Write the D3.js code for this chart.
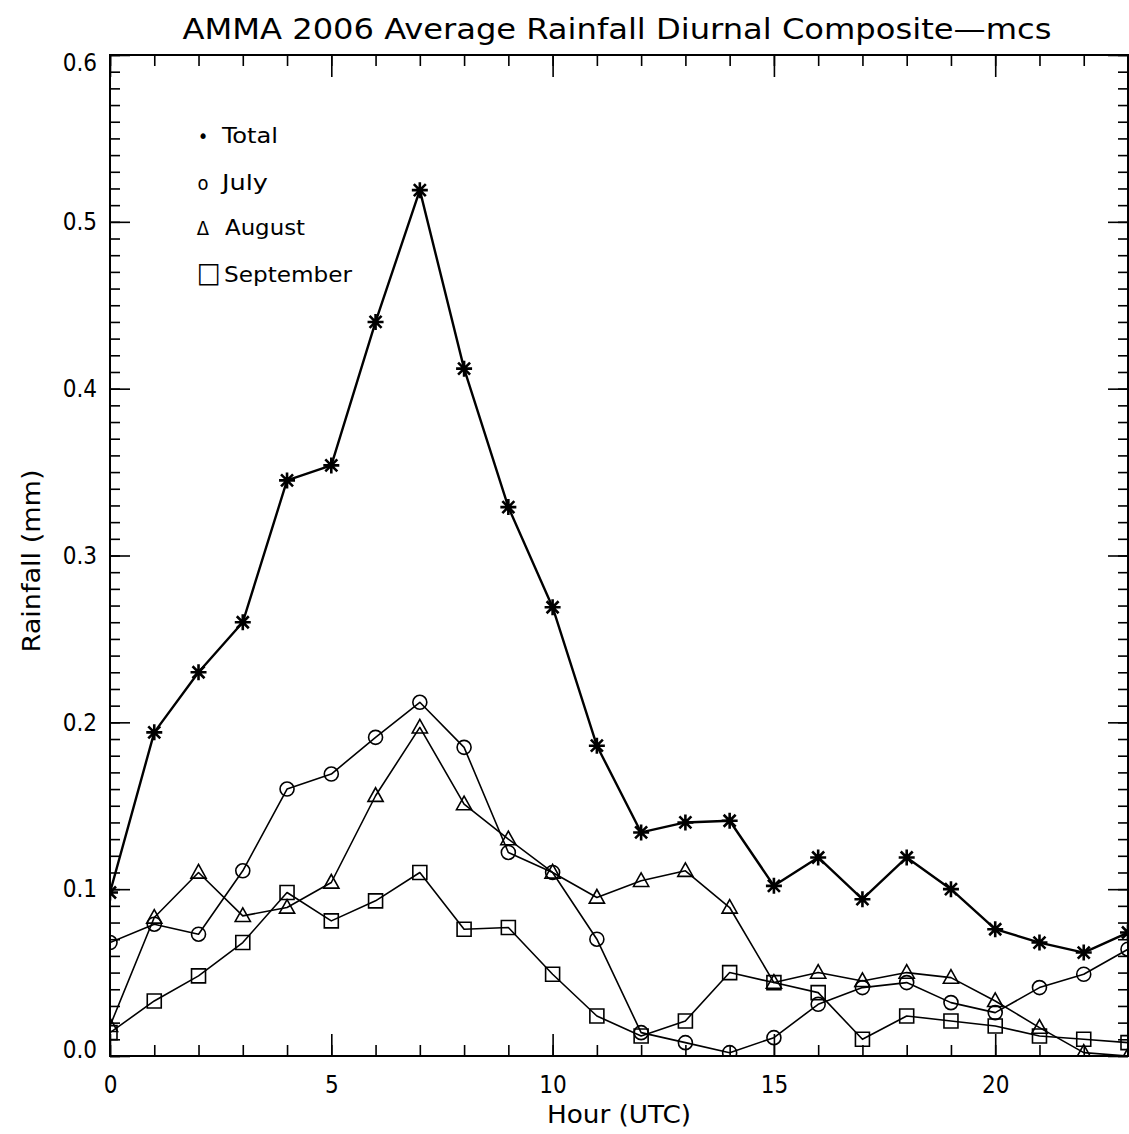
<!DOCTYPE html>
<html>
<head>
<meta charset="utf-8">
<script src="https://cdn.jsdelivr.net/npm/d3@7"></script>
<style>
  html, body { margin: 0; padding: 0; background: #fff; }
  svg { display: block; }
  text { font-family: "Liberation Sans Narrow", "DejaVu Sans Condensed", "DejaVu Sans", sans-serif; fill: #000; }
</style>
</head>
<body>
<svg id="chart" width="1129" height="1134"></svg>
<script>
// Hour of day (UTC)
const hours = [0,1,2,3,4,5,6,7,8,9,10,11,12,13,14,15,16,17,18,19,20,21,22,23];

// Average rainfall (mm) per hour
const totalRain = [0.098,0.194,0.230,0.260,0.345,0.354,0.440,0.519,0.412,0.329,0.269,0.186,
                   0.134,0.140,0.141,0.102,0.119,0.094,0.119,0.100,0.076,0.068,0.062,0.074];
const julyRain  = [0.068,0.079,0.073,0.111,0.160,0.169,0.191,0.212,0.185,0.122,0.110,0.070,
                   0.014,0.008,0.002,0.011,0.031,0.041,0.044,0.032,0.026,0.041,0.049,0.064];
const augustRain = [0.018,0.083,0.110,0.084,0.089,0.104,0.156,0.197,0.151,0.130,0.110,0.095,
                    0.105,0.111,0.089,0.044,0.050,0.045,0.050,0.047,0.033,0.017,0.002,0.000];
const septRain  = [0.014,0.033,0.048,0.068,0.098,0.081,0.093,0.110,0.076,0.077,0.049,0.024,
                   0.012,0.021,0.050,0.044,0.038,0.010,0.024,0.021,0.018,0.012,0.010,0.008];

const xMajorTicks = [0,5,10,15,20];
const yMajorTicks = [0.0,0.1,0.2,0.3,0.4,0.5,0.6];
const legendLabels = ["Total","July","August","September"];
const legendGlyphs = ["\u2022","o","\u0394","\u25A1"];

const svg = d3.select("#chart");
const plotLeft = 110, plotRight = 1128, plotTop = 55, plotBottom = 1056;

const x = d3.scaleLinear().domain([0, 23]).range([plotLeft, plotRight]);
const y = d3.scaleLinear().domain([0, 0.6]).range([plotBottom, plotTop]);

// title
svg.append("text")
  .attr("x", 617).attr("y", 39)
  .attr("text-anchor", "middle")
  .attr("font-size", 29)
  .attr("textLength", 869).attr("lengthAdjust", "spacingAndGlyphs")
  .text("AMMA 2006 Average Rainfall Diurnal Composite\u2014mcs");

// minor ticks
const xMinor = hours;
const yMinor = d3.range(0, 61).map(i => i / 100);

function styleAxis(g) {
  g.select(".domain").remove();
  g.selectAll(".tick line").attr("stroke", "#000").attr("stroke-width", 1.6);
  g.selectAll(".tick text").attr("font-size", 24).attr("fill", "#000");
}

svg.append("g").attr("transform", `translate(0,${plotBottom})`)
  .call(d3.axisBottom(x).tickValues(xMinor).tickSize(-11).tickSizeOuter(0).tickFormat(""))
  .call(styleAxis);
svg.append("g").attr("transform", `translate(0,${plotBottom})`)
  .call(d3.axisBottom(x).tickValues(xMajorTicks).tickSize(-22).tickSizeOuter(0).tickPadding(20).tickFormat(d3.format("d")))
  .call(styleAxis);
svg.append("g").attr("transform", `translate(0,${plotTop})`)
  .call(d3.axisTop(x).tickValues(xMinor).tickSize(-11).tickSizeOuter(0).tickFormat(""))
  .call(styleAxis);
svg.append("g").attr("transform", `translate(0,${plotTop})`)
  .call(d3.axisTop(x).tickValues(xMajorTicks).tickSize(-22).tickSizeOuter(0).tickFormat(""))
  .call(styleAxis);

svg.append("g").attr("transform", `translate(${plotLeft},0)`)
  .call(d3.axisLeft(y).tickValues(yMinor).tickSize(-10).tickSizeOuter(0).tickFormat(""))
  .call(styleAxis);
const yLabels = svg.append("g").attr("transform", `translate(${plotLeft},0)`)
  .call(d3.axisLeft(y).tickValues(yMajorTicks).tickSize(-20).tickSizeOuter(0).tickPadding(13).tickFormat(d3.format(".1f")))
  .call(styleAxis);
// keep the end labels inside the frame height
yLabels.selectAll(".tick text")
  .attr("y", d => d === 0.6 ? 8 : d === 0 ? -6 : 0);
svg.append("g").attr("transform", `translate(${plotRight},0)`)
  .call(d3.axisRight(y).tickValues(yMinor).tickSize(-10).tickSizeOuter(0).tickFormat(""))
  .call(styleAxis);
svg.append("g").attr("transform", `translate(${plotRight},0)`)
  .call(d3.axisRight(y).tickValues(yMajorTicks).tickSize(-20).tickSizeOuter(0).tickFormat(""))
  .call(styleAxis);

// frame
svg.append("rect")
  .attr("x", plotLeft).attr("y", plotTop)
  .attr("width", plotRight - plotLeft).attr("height", plotBottom - plotTop)
  .attr("fill", "none").attr("stroke", "#000").attr("stroke-width", 2);

// axis titles
svg.append("text")
  .attr("x", 619).attr("y", 1123)
  .attr("text-anchor", "middle").attr("font-size", 24)
  .attr("textLength", 144).attr("lengthAdjust", "spacingAndGlyphs")
  .text("Hour (UTC)");
svg.append("text")
  .attr("transform", "translate(40,561) rotate(-90)")
  .attr("text-anchor", "middle").attr("font-size", 24)
  .attr("textLength", 183).attr("lengthAdjust", "spacingAndGlyphs")
  .text("Rainfall (mm)");

// clipped plotting region
svg.append("clipPath").attr("id", "plotClip")
  .append("rect").attr("x", plotLeft).attr("y", plotTop - 1)
  .attr("width", plotRight - plotLeft + 1).attr("height", plotBottom - plotTop + 1);
const plot = svg.append("g").attr("clip-path", "url(#plotClip)");

const line = d3.line().x((d, i) => x(hours[i])).y(d => y(d));

const symbols = {
  asterisk: s => `M${-s},0L${s},0M0,${-s}L0,${s}M${-s*0.75},${-s*0.75}L${s*0.75},${s*0.75}M${-s*0.75},${s*0.75}L${s*0.75},${-s*0.75}`,
  circle: s => `M${s},0A${s},${s} 0 1,1 ${-s},0A${s},${s} 0 1,1 ${s},0Z`,
  triangle: s => `M0,${-s}L${s*0.95},${s*0.7}L${-s*0.95},${s*0.7}Z`,
  square: s => `M${-s},${-s}L${s},${-s}L${s},${s}L${-s},${s}Z`
};

const series = [
  { values: totalRain,  sym: "asterisk", size: 8, lw: 2.4, sw: 2.6 },
  { values: julyRain,   sym: "circle",   size: 7, lw: 1.6, sw: 1.6 },
  { values: augustRain, sym: "triangle", size: 8, lw: 1.6, sw: 1.6 },
  { values: septRain,   sym: "square",   size: 7, lw: 1.6, sw: 1.6 }
];

series.forEach(s => {
  plot.append("path")
    .datum(s.values)
    .attr("d", line)
    .attr("fill", "none").attr("stroke", "#000").attr("stroke-width", s.lw)
    .attr("stroke-linejoin", "round");
  plot.selectAll(null)
    .data(s.values)
    .join("path")
    .attr("transform", (d, i) => `translate(${x(hours[i])},${y(d)})`)
    .attr("d", symbols[s.sym](s.size))
    .attr("fill", "none").attr("stroke", "#000").attr("stroke-width", s.sw);
});

// legend
const legendY = [143, 190, 235, 282];
const legend = svg.append("g");
legend.selectAll("text.glyph")
  .data(legendGlyphs)
  .join("text")
  .attr("class", "glyph")
  .attr("x", (d, i) => i === 3 ? 209 : 203)
  .attr("y", (d, i) => legendY[i])
  .attr("text-anchor", "middle")
  .attr("font-size", (d, i) => [20, 20, 20, 28][i])
  .attr("font-family", "DejaVu Sans")
  .text(d => d);
legend.selectAll("text.label")
  .data(legendLabels)
  .join("text")
  .attr("class", "label")
  .attr("x", (d, i) => [222, 222, 225, 224][i])
  .attr("y", (d, i) => legendY[i])
  .attr("font-size", 22)
  .attr("textLength", (d, i) => [56, 46, 80, 128][i])
  .attr("lengthAdjust", "spacingAndGlyphs")
  .text(d => d);
</script>
</body>
</html>
